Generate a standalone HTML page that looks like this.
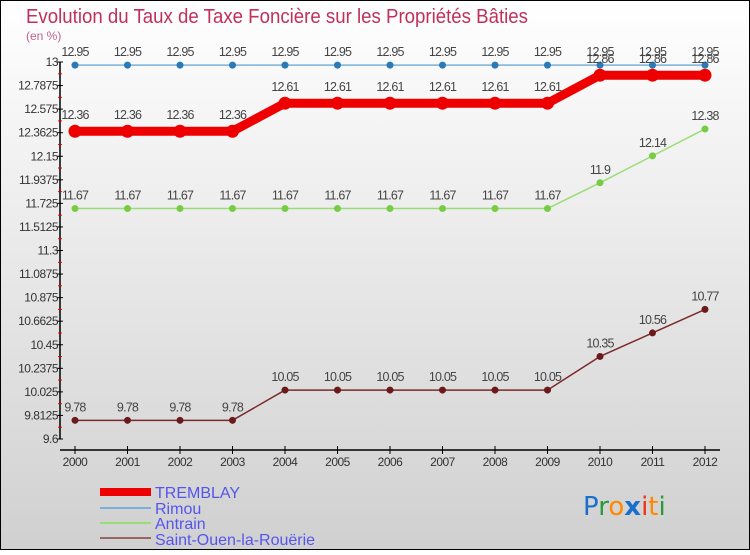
<!DOCTYPE html>
<html><head><meta charset="utf-8"><style>
html,body{margin:0;padding:0;}
body{width:750px;height:550px;overflow:hidden;font-family:"Liberation Sans",sans-serif;}
</style></head><body>
<svg id="chart" width="750" height="550" viewBox="0 0 750 550" xmlns="http://www.w3.org/2000/svg" font-family="Liberation Sans, sans-serif">
<defs>
<linearGradient id="bg" x1="0" y1="0" x2="0" y2="1">
<stop offset="0" stop-color="#ffffff"/><stop offset="1" stop-color="#d0d0d0"/>
</linearGradient>
</defs>
<rect x="0.5" y="0.5" width="749" height="549" fill="url(#bg)" stroke="#000" stroke-width="1"/>
<text x="26" y="23" font-size="20" fill="#c0305a" textLength="502" lengthAdjust="spacingAndGlyphs">Evolution du Taux de Taxe Foncière sur les Propriétés Bâties</text>
<text x="26" y="40" font-size="12" fill="#c0608a">(en %)</text>
<g id="axes"></g>
<g id="series"></g>
<g>
<rect x="100" y="488" width="51" height="8" fill="#ee0000"/>
<text x="155" y="498" font-size="16" fill="#5555ee">TREMBLAY</text>
<line x1="100" y1="508" x2="151" y2="508" stroke="#7ab0d8" stroke-width="2"/>
<text x="155" y="514" font-size="16" fill="#5555ee">Rimou</text>
<line x1="100" y1="523" x2="151" y2="523" stroke="#99dd77" stroke-width="2"/>
<text x="155" y="529" font-size="16" fill="#5555ee">Antrain</text>
<line x1="100" y1="538" x2="151" y2="538" stroke="#996666" stroke-width="2"/>
<text x="155" y="545" font-size="16" fill="#5555ee">Saint-Ouen-la-Rouërie</text>
</g>
<g font-size="26" font-family="DejaVu Sans, sans-serif">
<text x="583" y="515"><tspan fill="#1a6fcc">P</tspan><tspan fill="#2a9a3a">r</tspan><tspan fill="#ff8800">o</tspan><tspan fill="#1a6fcc" font-weight="bold">x</tspan><tspan fill="#ee3311">i</tspan><tspan fill="#ff8800">t</tspan><tspan fill="#2a9a3a">i</tspan></text>
</g>
</svg>
<script>
const years = [2000,2001,2002,2003,2004,2005,2006,2007,2008,2009,2010,2011,2012];
const yTicks = [13,12.7875,12.575,12.3625,12.15,11.9375,11.725,11.5125,11.3,11.0875,10.875,10.6625,10.45,10.2375,10.025,9.8125,9.6];
const tremblay = [12.36,12.36,12.36,12.36,12.61,12.61,12.61,12.61,12.61,12.61,12.86,12.86,12.86];
const rimou = [12.95,12.95,12.95,12.95,12.95,12.95,12.95,12.95,12.95,12.95,12.95,12.95,12.95];
const antrain = [11.67,11.67,11.67,11.67,11.67,11.67,11.67,11.67,11.67,11.67,11.9,12.14,12.38];
const saintOuen = [9.78,9.78,9.78,9.78,10.05,10.05,10.05,10.05,10.05,10.05,10.35,10.56,10.77];

const NS = "http://www.w3.org/2000/svg";
const yMin = 9.6, yMax = 13, pyTop = 59.5, pyBot = 440.5;
function yS(v){ return pyBot - (v - yMin) / (yMax - yMin) * (pyBot - pyTop); }
const tTop = 62, tBot = 439;
function yT(v){ return tBot - (v - yMin) / (yMax - yMin) * (tBot - tTop); }
function xS(i){ return 75 + i * 52.5; }
function mk(tag, attrs, parent){ const e = document.createElementNS(NS, tag); for (const k in attrs) e.setAttribute(k, attrs[k]); parent.appendChild(e); return e; }

const axes = document.getElementById('axes');
const ya = mk('line', {x1:60, y1:tTop, x2:60, y2:tBot, stroke:'#000', 'stroke-width':1.5}, axes);


yTicks.forEach((t, i) => {
  const y = yT(t);
  mk('line', {x1:57, y1:y, x2:63, y2:y, stroke:'#000'}, axes);
  const tx = mk('text', {x:58, y:y+4, 'font-size':12, fill:'#333', 'text-anchor':'end', 'letter-spacing':'-0.5'}, axes);
  tx.textContent = String(t);
  
  
  if (i < yTicks.length - 1) {
    const ym = yT((t + yTicks[i+1]) / 2);
    mk('line', {x1:58, y1:ym, x2:62, y2:ym, stroke:'#e00'}, axes);
  }
});
const xa = mk('line', {x1:60, y1:450, x2:720, y2:450, stroke:'#000', 'stroke-width':1.5}, axes);


years.forEach((yr, i) => {
  const x = xS(i);
  mk('line', {x1:x, y1:446, x2:x, y2:454, stroke:'#000'}, axes);
  const tx = mk('text', {x:x, y:466, 'font-size':12, fill:'#333', 'text-anchor':'middle', 'letter-spacing':'-0.5'}, axes);
  tx.textContent = String(yr);
  
  
});

const series = document.getElementById('series');
function draw(name, vals, color, dotColor, lw, r, labelDy){
  const g = mk('g', {}, series);
  
  
  const pts = vals.map((v, i) => xS(i) + ',' + yS(v)).join(' ');
  const pl = mk('polyline', {points:pts, fill:'none', stroke:color, 'stroke-width':lw, 'stroke-linejoin':'round'}, g);
  
  
  vals.forEach((v, i) => {
    const c = mk('circle', {cx:xS(i), cy:yS(v), r:r, fill:dotColor}, g);
    
    
    const t = mk('text', {x:xS(i), y:yS(v) - labelDy, 'font-size':12.5, fill:'#444', 'text-anchor':'middle', 'letter-spacing':'-0.8'}, g);
    t.textContent = String(v);
    
    
  });
}
draw('saint-ouen', saintOuen, '#7a2a2a', '#6a1a1a', 1.5, 3.5, 9);
draw('antrain', antrain, '#99dd77', '#77cc44', 1.5, 3.5, 9);
draw('rimou', rimou, '#7ab0d8', '#2a7ab8', 1.5, 3.5, 9);
draw('tremblay', tremblay, '#ee0000', '#ee0000', 9, 6.5, 12);
</script>
</body></html>
